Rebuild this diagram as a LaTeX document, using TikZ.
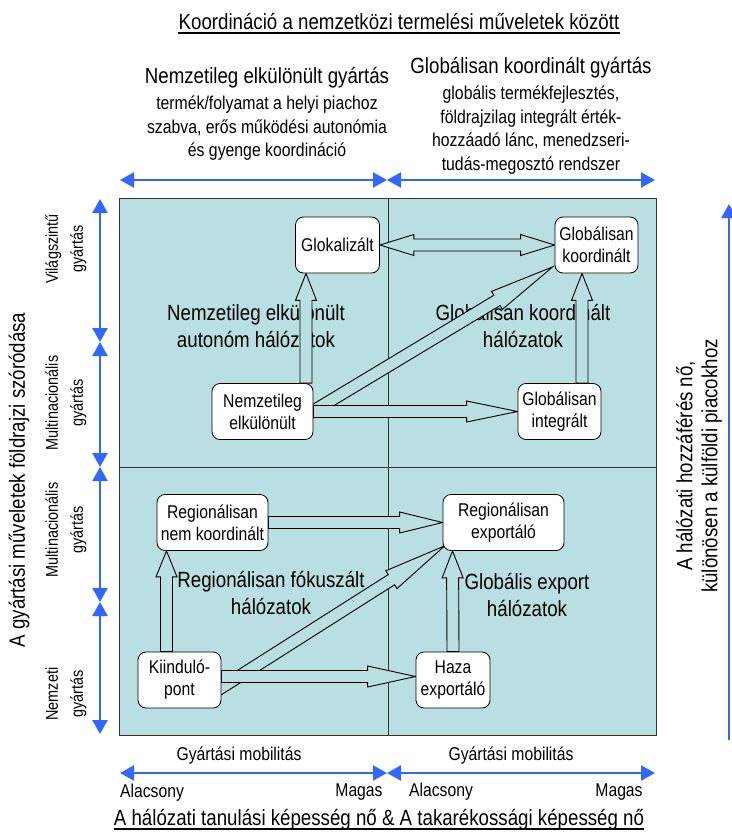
\documentclass[tikz,border=0pt]{standalone}
\usepackage{fontspec}
\setmainfont{Liberation Sans}[FakeStretch=0.85]
\usetikzlibrary{calc,arrows.meta}
\definecolor{areafill}{RGB}{186,223,227}
\definecolor{axisblue}{RGB}{51,102,255}
\pgfdeclarelayer{back}
\pgfdeclarelayer{arrows}
\pgfsetlayers{back,arrows,main}
\tikzset{
  stagebox/.style={draw, rounded corners=8pt, fill=white, align=center, inner sep=1pt,
    minimum height=56pt, line width=0.8pt, font=\fontsize{18.5}{22}\selectfont},
  titletext/.style={inner sep=0pt, font=\fontsize{22}{26}\selectfont},
  colhead/.style={align=center, inner sep=0pt, font=\fontsize{22}{26}\selectfont},
  coldesc/.style={align=center, inner sep=0pt, font=\fontsize{18.6}{23.5}\selectfont},
  zonelabel/.style={align=center, inner sep=0pt, font=\fontsize{22}{27}\selectfont},
  sidelabel/.style={align=center, inner sep=0pt, rotate=90, font=\fontsize{22}{25}\selectfont},
  sidesmall/.style={align=center, inner sep=0pt, rotate=90, font=\fontsize{17}{25}\selectfont},
  scaletext/.style={inner sep=0pt, font=\fontsize{18.5}{22}\selectfont},
  scaleline/.style={draw=axisblue, line width=2.5pt},
  scalearrow/.style={scaleline, {Triangle[length=14pt,width=15pt]}-{Triangle[length=14pt,width=15pt]}},
  % block arrow, #1 = head length
  blockarrow/.style={draw=black, line width=0.9pt, fill=areafill, to path={
    let \p1=(\tikztostart), \p2=(\tikztotarget),
        \n1={veclen(\x2-\x1,\y2-\y1)},
        \n2={(\x2-\x1)/\n1}, \n3={(\y2-\y1)/\n1},
        \n4={\n1-#1}
    in ({\x1-6*\n3},{\y1+6*\n2})
    -- ({\x1+\n4*\n2-6*\n3},{\y1+\n4*\n3+6*\n2})
    -- ({\x1+\n4*\n2-10.5*\n3},{\y1+\n4*\n3+10.5*\n2})
    -- (\p2)
    -- ({\x1+\n4*\n2+10.5*\n3},{\y1+\n4*\n3-10.5*\n2})
    -- ({\x1+\n4*\n2+6*\n3},{\y1+\n4*\n3-6*\n2})
    -- ({\x1+6*\n3},{\y1-6*\n2})
    -- cycle}},
  dblockarrow/.style={draw=black, line width=0.9pt, fill=areafill, to path={
    let \p1=(\tikztostart), \p2=(\tikztotarget),
        \n1={veclen(\x2-\x1,\y2-\y1)},
        \n2={(\x2-\x1)/\n1}, \n3={(\y2-\y1)/\n1},
        \n4={\n1-#1}
    in (\p1)
    -- ({\x1+#1*\n2-10.5*\n3},{\y1+#1*\n3+10.5*\n2})
    -- ({\x1+#1*\n2-6*\n3},{\y1+#1*\n3+6*\n2})
    -- ({\x1+\n4*\n2-6*\n3},{\y1+\n4*\n3+6*\n2})
    -- ({\x1+\n4*\n2-10.5*\n3},{\y1+\n4*\n3+10.5*\n2})
    -- (\p2)
    -- ({\x1+\n4*\n2+10.5*\n3},{\y1+\n4*\n3-10.5*\n2})
    -- ({\x1+\n4*\n2+6*\n3},{\y1+\n4*\n3-6*\n2})
    -- ({\x1+#1*\n2+6*\n3},{\y1+#1*\n3-6*\n2})
    -- ({\x1+#1*\n2+10.5*\n3},{\y1+#1*\n3-10.5*\n2})
    -- cycle}},
}
\begin{document}
\begin{tikzpicture}[x=1pt,y=-1pt]
\useasboundingbox (0,0) rectangle (731,832);

% headings
\node[titletext] (toptitle) at (399,22) {Koordináció a nemzetközi termelési műveletek között};
\draw[line width=1.5pt] ([yshift=-3pt]toptitle.base west) -- ([yshift=-3pt]toptitle.base east);
\node[colhead] (lefthead) at (267,78) {Nemzetileg elkülönült gyártás};
\node[coldesc] (leftdesc) at (267,128.5) {termék/folyamat a helyi piachoz\\szabva, erős működési autonómia\\és gyenge koordináció};
\node[colhead] (righthead) at (531,68) {Globálisan koordinált gyártás};
\node[coldesc] (rightdesc) at (531,130) {globális termékfejlesztés,\\földrajzilag integrált érték-\\hozzáadó lánc, menedzseri-\\tudás-megosztó rendszer};

% quadrants
\begin{pgfonlayer}{back}
\draw[fill=areafill, line width=1pt, draw=black!80] (119,198) rectangle (656,735);
\draw[line width=0.8pt, draw=black!80] (388,198) -- (388,735) (119,467) -- (656,467);
\node[zonelabel] (zonenw) at (256,326.5) {Nemzetileg elkülönült\\autonóm hálózatok};
\node[zonelabel] (zonene) at (523,326.5) {Globálisan koordinált\\hálózatok};
\node[zonelabel] (zonesw) at (271,593.5) {Regionálisan fókuszált\\hálózatok};
\node[zonelabel] (zonese) at (527,595) {Globális export\\hálózatok};
\end{pgfonlayer}

% stages
\node[stagebox, minimum width=84pt] (glok) at (337.5,245) {Glokalizált};
\node[stagebox, minimum width=83pt] (globk) at (596.5,245) {Globálisan\\koordinált};
\node[stagebox, minimum width=101pt] (nemz) at (262.5,411.5) {Nemzetileg\\elkülönült};
\node[stagebox, minimum width=83pt] (globint) at (559.5,411.5) {Globálisan\\integrált};
\node[stagebox, minimum width=111pt] (regnem) at (212.5,522.5) {Regionálisan\\nem koordinált};
\node[stagebox, minimum width=121pt] (regexp) at (503.5,522.5) {Regionálisan\\exportáló};
\node[stagebox, minimum width=83pt] (kiind) at (179.5,680) {Kiinduló-\\pont};
\node[stagebox, minimum width=74pt] (haza) at (453,680) {Haza\\exportáló};

\begin{pgfonlayer}{arrows}
\draw[blockarrow=65] ([xshift=-10pt,yshift=-5.5pt]nemz.east) to ([xshift=-2pt,yshift=6.5pt]globk.south west);
\draw[blockarrow=63] ([xshift=-10pt,yshift=-14pt]kiind.east) to ([xshift=2pt,yshift=5pt]regexp.south west);
\draw[blockarrow=51] (nemz.east) to (globint.west);
\draw[blockarrow=43] (regnem.east) to (regexp.west);
\draw[blockarrow=48] ([yshift=3.5pt]kiind.east) to ([yshift=3.5pt]haza.west);
\draw[blockarrow=27] ([xshift=43.5pt]nemz.north) to ([xshift=-31.5pt]glok.south);
\draw[blockarrow=27] ([xshift=22.5pt]globint.north) to ([xshift=-14.5pt]globk.south);
\draw[blockarrow=26] ([xshift=-13pt]kiind.north) to ([xshift=-46pt]regnem.south);
\draw[blockarrow=27] (haza.north) to ([xshift=-51pt]regexp.south);
\draw[dblockarrow=34] (glok.east) to (globk.west);
\end{pgfonlayer}

% scales
\coordinate (topleft) at (120,180);
\coordinate (topmid) at (387,180);
\coordinate (topright) at (655,180);
\draw[scalearrow] (topleft) -- (topmid);
\draw[scalearrow] (topmid) -- (topright);
\coordinate (botleft) at (120,773);
\coordinate (botmid) at (387,773);
\coordinate (botright) at (655,773);
\draw[scalearrow] (botleft) -- (botmid);
\draw[scalearrow] (botmid) -- (botright);
\coordinate (lev0) at (100,199);
\coordinate (lev1) at (100,342);
\coordinate (lev2) at (100,467);
\coordinate (lev3) at (100,602);
\coordinate (lev4) at (100,734);
\draw[scalearrow] (lev0) -- (lev1);
\draw[scalearrow] (lev1) -- (lev2);
\draw[scalearrow] (lev2) -- (lev3);
\draw[scalearrow] (lev3) -- (lev4);
\coordinate (accbot) at (729,740);
\coordinate (acctop) at (729,204);
\draw[scaleline, -{Triangle[length=14pt,width=15pt]}] (accbot) -- (acctop);

% side labels
\node[sidelabel] (spread) at (19,480) {A gyártási műveletek földrajzi szóródása};
\node[sidesmall] (world) at (66,249) {Világszintű\\gyártás};
\node[sidesmall] (multiup) at (66,403) {Multinacionális\\gyártás};
\node[sidesmall] (multidown) at (66,530) {Multinacionális\\gyártás};
\node[sidesmall] (national) at (66,694) {Nemzeti\\gyártás};
\node[sidelabel] (access) at (699,466) {A hálózati hozzáférés nő,\\különösen a külföldi piacokhoz};

% bottom
\node[scaletext] (mobleft) at (239,756) {Gyártási mobilitás};
\node[scaletext] (mobright) at (511,756) {Gyártási mobilitás};
\node[scaletext] (lowleft) at (152,793) {Alacsony};
\node[scaletext] (highleft) at (359,792) {Magas};
\node[scaletext] (lowright) at (441,792) {Alacsony};
\node[scaletext] (highright) at (619,792) {Magas};
\node[titletext] (bottitle) at (379,820) {A hálózati tanulási képesség nő \& A takarékossági képesség nő};
\draw[line width=1.5pt] ([yshift=-3pt]bottitle.base west) -- ([yshift=-3pt]bottitle.base east);
\end{tikzpicture}
\end{document}
